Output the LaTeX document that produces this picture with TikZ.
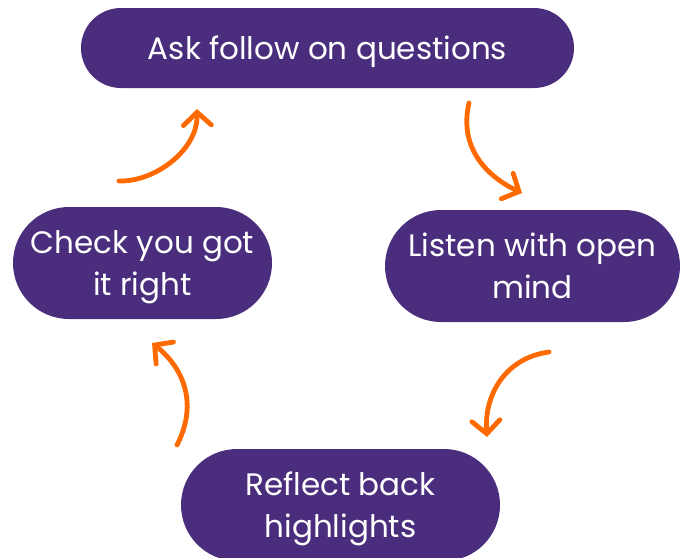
\documentclass[tikz,border=0pt]{standalone}
\usepackage{fontspec}
\setmainfont{Poppins}
\usetikzlibrary{arrows.meta}
\definecolor{purp}{HTML}{4A2E7D}
\definecolor{orng}{HTML}{FF6A00}
\newcommand{\pilltext}[1]{\raisebox{-2.6pt}[\height][\depth]{\begin{tabular}{@{}c@{}}#1\end{tabular}}}
\begin{document}
\begin{tikzpicture}[x=1pt,y=-1pt,
  pill/.style={fill=purp,text=white,inner sep=0pt,
    font=\fontsize{31}{42}\selectfont},
  arr/.style={draw=orng,line width=4.8pt,line cap=round,line join=round,
    -{Straight Barb[length=13pt,width=28pt,line cap=round]}}]
\useasboundingbox (0,0) rectangle (684,557);
\node[pill,minimum width=493pt,minimum height=80pt,rounded corners=40pt] (ask) at (327.5,48) {\pilltext{Ask follow on questions}};
\node[pill,minimum width=295pt,minimum height=112pt,rounded corners=56pt] (listen) at (532.5,266) {\pilltext{Listen with open\\mind}};
\node[pill,minimum width=319pt,minimum height=112pt,rounded corners=56pt] (reflect) at (340.5,505) {\pilltext{Reflect back\\highlights}};
\node[pill,minimum width=259pt,minimum height=112pt,rounded corners=56pt] (check) at (142.5,263) {\pilltext{Check you got\\it right}};
\coordinate (a1s) at (119,181); \coordinate (a1e) at (197,109);
\coordinate (a2s) at (469,103); \coordinate (a2e) at (522,193);
\coordinate (a3s) at (549,352); \coordinate (a3e) at (487,437);
\coordinate (a4s) at (177,445); \coordinate (a4e) at (152,343);
\draw[arr] (a1s) .. controls (155,182) and (198,150) .. (a1e);
\draw[arr] (a2s) .. controls (458,150) and (490,178) .. (a2e);
\draw[arr] (a3s) .. controls (505,358) and (484,395) .. (a3e);
\draw[arr] (a4s) .. controls (200,400) and (180,365) .. (a4e);
\end{tikzpicture}
\end{document}
